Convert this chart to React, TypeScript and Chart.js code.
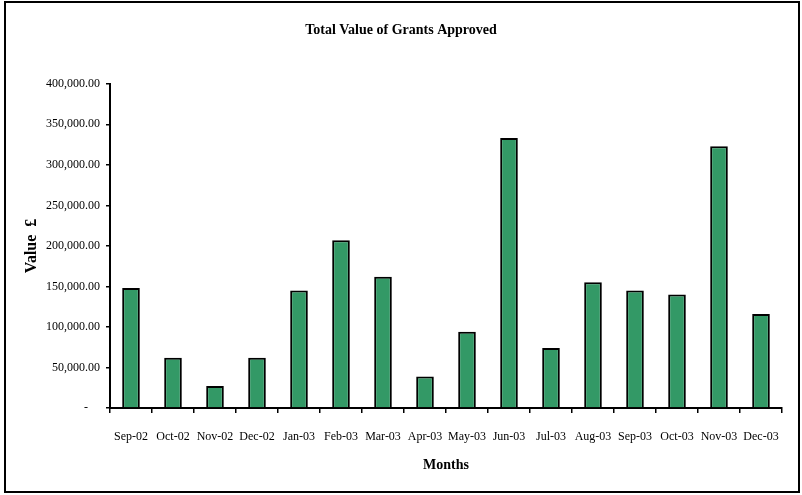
import React, { useEffect, useRef } from 'react';
import { Chart, registerables } from 'chart.js';

Chart.register(...registerables);

const chartTitle = 'Total Value of Grants Approved';
const xTitle = 'Months';
const yTitle = 'Value  £';

const months = [
  'Sep-02', 'Oct-02', 'Nov-02', 'Dec-02', 'Jan-03', 'Feb-03', 'Mar-03', 'Apr-03',
  'May-03', 'Jun-03', 'Jul-03', 'Aug-03', 'Sep-03', 'Oct-03', 'Nov-03', 'Dec-03',
];

const grantValues = [
  148000, 62000, 27000, 62000, 145000, 207000, 162000, 39000,
  94000, 333000, 74000, 155000, 145000, 140000, 323000, 116000,
];

const yMin = 0;
const yMax = 400000;
const yStep = 50000;

const FONT = "'Liberation Serif', 'Times New Roman', serif";

const formatTick = (v: number) =>
  v === 0
    ? '-    '
    : v.toLocaleString('en-US', { minimumFractionDigits: 2, maximumFractionDigits: 2 });

const framePlugin = {
  id: 'frame',
  afterDraw(chart: any) {
    const ctx = chart.ctx;
    ctx.save();
    ctx.strokeStyle = '#000';
    ctx.lineWidth = 2;
    ctx.strokeRect(5, 2, 794, 490);
    ctx.restore();
  },
};

export default function App() {
  const ref = useRef<HTMLCanvasElement>(null);

  useEffect(() => {
    if (!ref.current) return;
    const chart = new Chart(ref.current, {
      type: 'bar',
      data: {
        labels: months,
        datasets: [
          {
            label: 'Value',
            data: grantValues,
            backgroundColor: '#339966',
            borderColor: '#000000',
            borderWidth: 2,
            barPercentage: 0.42,
            categoryPercentage: 1,
          },
        ],
      },
      options: {
        animation: false,
        responsive: true,
        maintainAspectRatio: false,
        layout: { padding: { left: 20, right: 20, top: 0, bottom: 17 } },
        plugins: {
          legend: { display: false },
          tooltip: { enabled: false },
          title: {
            display: true,
            text: chartTitle,
            color: '#000',
            font: { family: FONT, size: 14, weight: 'bold' },
            padding: { top: 22, bottom: 45 },
          },
        },
        scales: {
          x: {
            offset: true,
            grid: {
              display: true,
              drawOnChartArea: false,
              drawTicks: true,
              tickLength: 5,
              color: '#000',
              lineWidth: 1.5,
              offset: true,
            },
            border: { display: true, color: '#000', width: 2 },
            ticks: {
              color: '#000',
              font: { family: FONT, size: 12 },
              padding: 17,
              maxRotation: 0,
              autoSkip: false,
            },
            title: {
              display: true,
              text: xTitle,
              color: '#000',
              font: { family: FONT, size: 14, weight: 'bold' },
              padding: { top: 4, bottom: 4 },
            },
            afterFit: (s: any) => {
              s.height = 70;
            },
          },
          y: {
            min: yMin,
            max: yMax,
            grid: {
              display: true,
              drawOnChartArea: false,
              drawTicks: true,
              tickLength: 4,
              color: '#000',
              lineWidth: 1.5,
            },
            border: { display: true, color: '#000', width: 2 },
            ticks: {
              stepSize: yStep,
              color: '#000',
              font: { family: FONT, size: 12 },
              padding: 6,
              callback: (v: any) => formatTick(Number(v)),
            },
            title: {
              display: true,
              text: yTitle,
              color: '#000',
              font: { family: FONT, size: 16, weight: 'bold' },
              padding: { top: 2, bottom: 2 },
            },
            afterFit: (s: any) => {
              s.width = 90;
            },
          },
        },
      },
      plugins: [framePlugin],
    });
    return () => chart.destroy();
  }, []);

  return (
    <div
      style={{
        position: 'absolute',
        left: 0,
        top: 0,
        width: 802,
        height: 495,
        background: '#fff',
      }}
    >
      <canvas ref={ref} />
    </div>
  );
}
